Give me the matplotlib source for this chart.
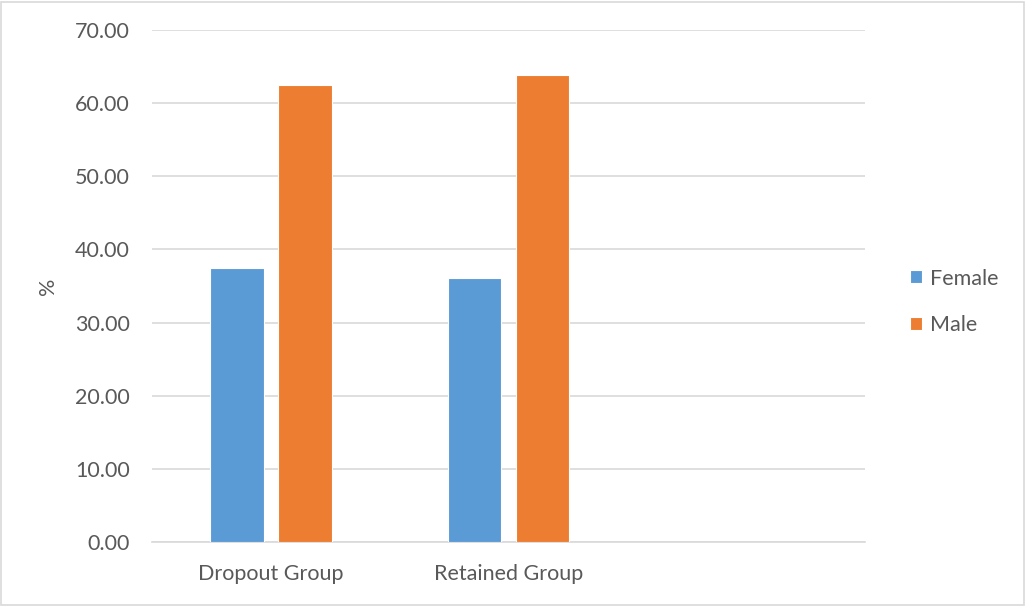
import matplotlib
matplotlib.use("Agg")
import matplotlib.pyplot as plt
import numpy as np
from matplotlib.patches import Rectangle

categories = ["Dropout Group", "Retained Group", ""]
female = [37.4, 36.1, np.nan]
male = [62.5, 63.9, np.nan]
series_names = ["Female", "Male"]
yticks = [0, 10, 20, 30, 40, 50, 60, 70]

BLUE = "#5B9BD5"
ORANGE = "#ED7D31"
TEXT = "#595959"
GRID = "#D9D9D9"
FS = 15.5

plt.rcParams["font.family"] = ["Lato", "DejaVu Sans"]

fig = plt.figure(figsize=(10.26, 6.06), dpi=100)
ax = fig.add_axes([152 / 1026, 64 / 606, 713 / 1026, 512 / 606])

x = np.arange(len(categories))
w = 0.227
off = 0.143
ax.bar(x - off, female, width=w, color=BLUE, edgecolor="white", linewidth=0.8,
       label=series_names[0], zorder=3)
ax.bar(x + off, male, width=w, color=ORANGE, edgecolor="white", linewidth=0.8,
       label=series_names[1], zorder=3)

ax.set_xlim(-0.5, len(categories) - 0.5)
ax.set_ylim(0, 70)
ax.set_yticks(yticks)
ax.set_yticklabels([f"{v:.2f}" for v in yticks])
ax.set_xticks(x)
ax.set_xticklabels(categories)
ax.tick_params(axis="both", length=0, labelsize=FS, colors=TEXT)
ax.tick_params(axis="y", pad=16)
ax.tick_params(axis="x", pad=16)
ax.yaxis.grid(True, color=GRID, linewidth=1.2, zorder=0)
for s in ["top", "right", "left"]:
    ax.spines[s].set_visible(False)
ax.spines["bottom"].set_color(GRID)
ax.spines["bottom"].set_linewidth(1.2)
ax.set_ylabel("%", fontsize=FS, color=TEXT, labelpad=12)

leg = fig.legend(loc="center left", bbox_to_anchor=(891 / 1026, 1 - 302 / 606),
                 frameon=False, fontsize=FS, handlelength=0.55, handleheight=0.55,
                 handletextpad=0.35, labelspacing=1.25)
for t in leg.get_texts():
    t.set_color(TEXT)

fig.patches.append(Rectangle((1 / 1026, 1 / 606), 1023 / 1026, 603 / 606,
                             transform=fig.transFigure, fill=False,
                             edgecolor=GRID, linewidth=1.2))

fig.savefig("out.png", dpi=100)
